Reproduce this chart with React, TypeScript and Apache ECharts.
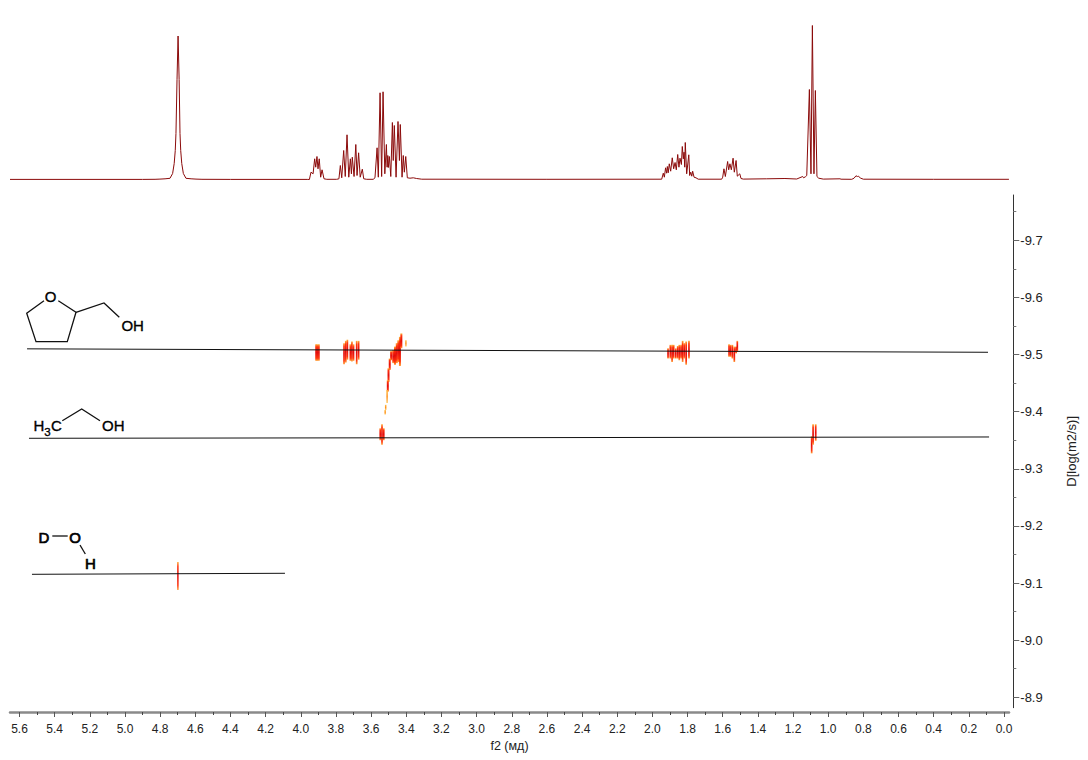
import React, { useEffect, useRef } from "react";
import * as echarts from "echarts";

const xMajorTicks = [5.6, 5.4, 5.2, 5.0, 4.8, 4.6, 4.4, 4.2, 4.0, 3.8, 3.6, 3.4, 3.2, 3.0, 2.8, 2.6, 2.4, 2.2, 2.0, 1.8, 1.6, 1.4, 1.2, 1.0, 0.8, 0.6, 0.4, 0.2, 0.0];
const xMinorTicks = [5.5, 5.3, 5.1, 4.9, 4.7, 4.5, 4.3, 4.1, 3.9, 3.7, 3.5, 3.3, 3.1, 2.9, 2.7, 2.5, 2.3, 2.1, 1.9, 1.7, 1.5, 1.3, 1.1, 0.9, 0.7, 0.5, 0.3, 0.1];
const yMajorTicks = [-9.7, -9.6, -9.5, -9.4, -9.3, -9.2, -9.1, -9.0, -8.9];
const yMinorTicks = [-9.75, -9.65, -9.55, -9.45, -9.35, -9.25, -9.15, -9.05, -8.95];

// 1D projection: [ppm, intensity]
const spectrumHDO = [
  [5.654, 0.1], [4.9, 0.1], [4.829, 0.2], [4.801, 0.4], [4.772, 0.7], [4.744, 1.2], [4.729, 6], [4.72, 16], [4.714, 29], [4.71, 46], [4.704, 100], [4.698, 143.5],
  [4.692, 100], [4.687, 46], [4.683, 29], [4.677, 16], [4.668, 6], [4.653, 1.2], [4.624, 0.7], [4.596, 0.4], [4.562, 0.2], [4.4, 0.1], [3.96, 0.1],
];
const spectrumCH2O = [
  [3.951, 0], [3.942, 7.3], [3.93, 5.7], [3.921, 20.7], [3.915, 12.3], [3.908, 23], [3.902, 10.7], [3.895, 20.7], [3.887, 2.3], [3.879, 9.7], [3.868, 0.7], [3.852, 0.2],
  [3.796, 0.2], [3.783, 0.7], [3.775, 14], [3.767, 1.7], [3.756, 29], [3.747, 3], [3.737, 44.7], [3.727, 2.3], [3.718, 20.7], [3.712, 5.7], [3.707, 22.3], [3.697, 3],
  [3.687, 35], [3.68, 4], [3.671, 26.7], [3.662, 2.3], [3.65, 10.3], [3.642, 0.7], [3.625, 0.2], [3.588, 0.2],
];
const spectrumEthanolCH2 = [
  [3.578, 1.7], [3.566, 31.7], [3.559, 2.3], [3.549, 86.7], [3.54, 3], [3.532, 87.7], [3.522, 5.7], [3.513, 35], [3.509, 12.3], [3.505, 24], [3.502, 12], [3.496, 23],
  [3.488, 3], [3.479, 57], [3.474, 19], [3.468, 54], [3.458, 2.3], [3.447, 58], [3.439, 19], [3.434, 55], [3.424, 2.3], [3.417, 24], [3.411, 7.3], [3.403, 23], [3.394, 1.7],
  [3.379, 1.3], [3.36, 1.7], [3.341, 1], [3.312, 0.3], [2.6, 0.2], [1.947, 0.3],
];
const spectrumRing = [
  [1.938, 6.3], [1.932, 2.3], [1.925, 11.7], [1.919, 6.3], [1.915, 13], [1.91, 6.7], [1.904, 15.7], [1.896, 8.3], [1.887, 21.7], [1.879, 10.7], [1.871, 17], [1.864, 9.7],
  [1.856, 25], [1.849, 12.3], [1.843, 21.3], [1.835, 15], [1.83, 33], [1.824, 20.7], [1.82, 27.3], [1.816, 12.3], [1.813, 37], [1.805, 5.7], [1.793, 24.7], [1.788, 4],
  [1.782, 7.3], [1.776, 3.3], [1.771, 8.3], [1.763, 2.3], [1.752, 1.7], [1.739, 0.3], [1.606, 0.3], [1.6, 2.3], [1.593, 10.7], [1.585, 3], [1.572, 18], [1.566, 9.7],
  [1.559, 15.7], [1.551, 9.7], [1.541, 21.3], [1.534, 7.3], [1.524, 19], [1.517, 3.3], [1.503, 5.7], [1.496, 1], [1.483, 0.4],
];
const spectrumMethyl = [
  [1.35, 0.7], [1.246, 1], [1.179, 0.5], [1.145, 3], [1.14, 1.7], [1.13, 2.7], [1.122, 4], [1.107, 90], [1.098, 5.7], [1.09, 154], [1.081, 5.7], [1.073, 89], [1.064, 3],
  [1.054, 1.3], [1.028, 0.4], [0.933, 0.7], [0.927, 0.3], [0.866, 0.2], [0.853, 1.3], [0.842, 3.7], [0.834, 3], [0.829, 3.3], [0.815, 1.3], [0.8, 0.3], [0.4, 0.2], [-0.028, 0.2],
];
const spectrum = [...spectrumHDO, ...spectrumCH2O, ...spectrumEthanolCH2, ...spectrumRing, ...spectrumMethyl];

// DOSY contours, one vertical streak each: [ppm, D upper, D lower]
const contourThfOCH = [[3.913, -9.518, -9.489], [3.906, -9.518, -9.489], [3.897, -9.518, -9.489]];
const contourThfOCH2 = [
  [3.754, -9.52, -9.483], [3.744, -9.524, -9.486], [3.735, -9.526, -9.491], [3.718, -9.518, -9.489],
  [3.709, -9.523, -9.488], [3.7, -9.518, -9.489], [3.682, -9.524, -9.483], [3.671, -9.524, -9.491],
];
const contourThfCH2OH = [
  [3.474, -9.508, -9.485], [3.464, -9.514, -9.482], [3.454, -9.52, -9.485], [3.445, -9.525, -9.487], [3.436, -9.531, -9.48], [3.428, -9.537, -9.511],
  [3.486, -9.506, -9.49], [3.494, -9.493, -9.473], [3.501, -9.476, -9.452], [3.505, -9.455, -9.435],
];
const contourPale = [[3.402, -9.525, -9.514], [3.509, -9.438, -9.415], [3.517, -9.412, -9.403], [3.52, -9.403, -9.395]];
const contourEthanol = [
  [3.548, -9.371, -9.35], [3.538, -9.378, -9.342], [3.528, -9.371, -9.35],
  [1.094, -9.357, -9.327], [1.086, -9.378, -9.342], [1.071, -9.378, -9.349],
];
const contourThfRing = [
  [1.911, -9.511, -9.493], [1.898, -9.517, -9.493], [1.888, -9.517, -9.487], [1.879, -9.517, -9.493], [1.867, -9.511, -9.493], [1.856, -9.515, -9.493],
  [1.847, -9.517, -9.49], [1.837, -9.517, -9.493], [1.828, -9.524, -9.487], [1.819, -9.52, -9.493], [1.808, -9.523, -9.482], [1.792, -9.524, -9.493],
  [1.564, -9.518, -9.496], [1.555, -9.517, -9.496], [1.545, -9.517, -9.493], [1.534, -9.514, -9.487], [1.524, -9.514, -9.502], [1.517, -9.524, -9.505],
];
const contourHDO = [[4.699, -9.137, -9.088]];

// Guide lines through each species: [ppm, D]
const guideThf = [[5.557, -9.51], [0.091, -9.504]];
const guideEthanol = [[5.546, -9.3534], [0.085, -9.3557]];
const guideWater = [[5.529, -9.1153], [4.09, -9.1171]];

const FONT = '"Liberation Sans", Arial, sans-serif';

const streakFill = (pale: boolean) =>
  new echarts.graphic.LinearGradient(0, 0, 0, 1, pale
    ? [{ offset: 0, color: "#ffc040" }, { offset: 0.5, color: "#ff8a10" }, { offset: 1, color: "#ffc860" }]
    : [
        { offset: 0, color: "#ffb030" },
        { offset: 0.16, color: "#ff2a00" },
        { offset: 0.5, color: "#e00000" },
        { offset: 0.84, color: "#ff2a00" },
        { offset: 1, color: "#ffa030" },
      ]);

const streakSeries = (data: number[][], pale = false, width = 1.7) => ({
  type: "custom",
  xAxisIndex: 1,
  yAxisIndex: 1,
  clip: true,
  silent: true,
  data,
  encode: { x: 0, y: [1, 2] },
  renderItem: (_: any, api: any) => {
    const a = api.coord([api.value(0), api.value(1)]);
    const b = api.coord([api.value(0), api.value(2)]);
    return {
      type: "rect",
      shape: { x: a[0] - width / 2, y: a[1], width, height: b[1] - a[1] },
      style: { fill: streakFill(pale), opacity: 0.95 },
    };
  },
});

const guide = (data: number[][]) => ({
  type: "line",
  xAxisIndex: 1,
  yAxisIndex: 1,
  data,
  showSymbol: false,
  symbol: "none",
  silent: true,
  z: 5,
  lineStyle: { color: "#111", width: 1 },
});

const bond = (points: number[][]) => ({
  type: "polyline",
  shape: { points },
  style: { stroke: "#111", lineWidth: 1.3, fill: "none" },
});
const atom = (text: string, x: number, y: number, font = `15px ${FONT}`, heavy = 0.35) => ({
  type: "text",
  x,
  y,
  style: { text, font, fill: "#000", stroke: "#000", lineWidth: heavy, textAlign: "center", textVerticalAlign: "middle" },
});

export default function App() {
  const ref = useRef<HTMLDivElement>(null);
  useEffect(() => {
    document.body.style.margin = "0";
    const chart = echarts.init(ref.current!, undefined, { renderer: "svg" });
    const xRange = { min: -0.0284, max: 5.654, inverse: true };
    const yRange = { min: -9.7793, max: -8.8818, inverse: true };
    chart.setOption({
      animation: false,
      backgroundColor: "#fff",
      grid: [
        { left: 10, width: 999, top: 19.5, height: 160 },
        { left: 10, width: 999, top: 195, height: 512.7 },
      ],
      xAxis: [
        { type: "value", gridIndex: 0, ...xRange, show: false },
        {
          type: "value",
          gridIndex: 1,
          ...xRange,
          position: "bottom",
          offset: 4.3,
          name: "f2 (мд)",
          nameLocation: "middle",
          nameGap: 27,
          nameTextStyle: { fontFamily: FONT, fontSize: 12.5, color: "#222" },
          splitLine: { show: false },
          axisLine: { show: true, onZero: false, lineStyle: { color: "#8a8a8a", width: 2.5 } },
          axisTick: { show: true, customValues: xMajorTicks, length: 5, lineStyle: { color: "#555" } },
          axisLabel: { show: true, customValues: xMajorTicks, margin: 11, fontFamily: FONT, fontSize: 12, color: "#222", formatter: (v: number) => v.toFixed(1) },
        },
        {
          type: "value",
          gridIndex: 1,
          ...xRange,
          position: "bottom",
          offset: 4.3,
          splitLine: { show: false },
          axisLine: { show: false, onZero: false },
          axisTick: { show: true, customValues: xMinorTicks, length: 3, lineStyle: { color: "#444" } },
          axisLabel: { show: false },
        },
      ],
      yAxis: [
        { type: "value", gridIndex: 0, min: 0, max: 160, show: false },
        {
          type: "value",
          gridIndex: 1,
          ...yRange,
          position: "right",
          offset: 4.3,
          name: "D[log(m2/s)]",
          nameLocation: "middle",
          nameRotate: 90,
          nameGap: 52,
          nameTextStyle: { fontFamily: FONT, fontSize: 13, color: "#222" },
          splitLine: { show: false },
          axisLine: { show: true, onZero: false, lineStyle: { color: "#333", width: 1 } },
          axisTick: { show: true, customValues: yMajorTicks, length: 6, lineStyle: { color: "#666" } },
          axisLabel: { show: true, customValues: yMajorTicks, margin: 7, padding: [3, 0, 0, 0], fontFamily: FONT, fontSize: 13, color: "#222", formatter: (v: number) => v.toFixed(1) },
        },
        {
          type: "value",
          gridIndex: 1,
          ...yRange,
          position: "right",
          offset: 4.3,
          splitLine: { show: false },
          axisLine: { show: false, onZero: false },
          axisTick: { show: true, customValues: yMinorTicks, length: 3, lineStyle: { color: "#777" } },
          axisLabel: { show: false },
        },
      ],
      series: [
        {
          type: "line",
          xAxisIndex: 0,
          yAxisIndex: 0,
          data: spectrum,
          showSymbol: false,
          symbol: "none",
          silent: true,
          clip: false,
          lineStyle: { color: "#8b0a0a", width: 1 },
        },
        streakSeries(contourThfOCH),
        streakSeries(contourThfOCH2),
        streakSeries(contourThfCH2OH, false, 2),
        streakSeries(contourPale, true, 1.5),
        streakSeries(contourEthanol),
        streakSeries(contourThfRing),
        streakSeries(contourHDO, false, 1.5),
        guide(guideThf),
        guide(guideEthanol),
        guide(guideWater),
      ],
      graphic: [
        bond([[44, 300.7], [26.7, 313.3], [36, 341.7], [67.3, 341.7], [76, 312.3], [58.3, 300.7]]),
        bond([[76, 312.3], [104, 303], [119.3, 317.3]]),
        atom("O", 50.7, 296.5),
        atom("OH", 132.7, 325),
        bond([[62.3, 420.7], [81.7, 409], [100, 420.7]]),
        atom("H", 39, 425.7),
        atom("3", 47.5, 431.5, `11.5px ${FONT}`),
        atom("C", 56.5, 425.7),
        atom("OH", 113.3, 425.7),
        atom("D", 44, 537.7, `15px ${FONT}`, 0.7),
        bond([[52.3, 536], [67.7, 536]]),
        atom("O", 75, 537.7, `15px ${FONT}`, 0.7),
        bond([[80, 545], [85.3, 554]]),
        atom("H", 90.3, 563.3, `15px ${FONT}`, 0.7),
      ],
    });
    return () => chart.dispose();
  }, []);
  return <div ref={ref} style={{ position: "absolute", left: 0, top: 0, width: 1088, height: 760 }} />;
}
